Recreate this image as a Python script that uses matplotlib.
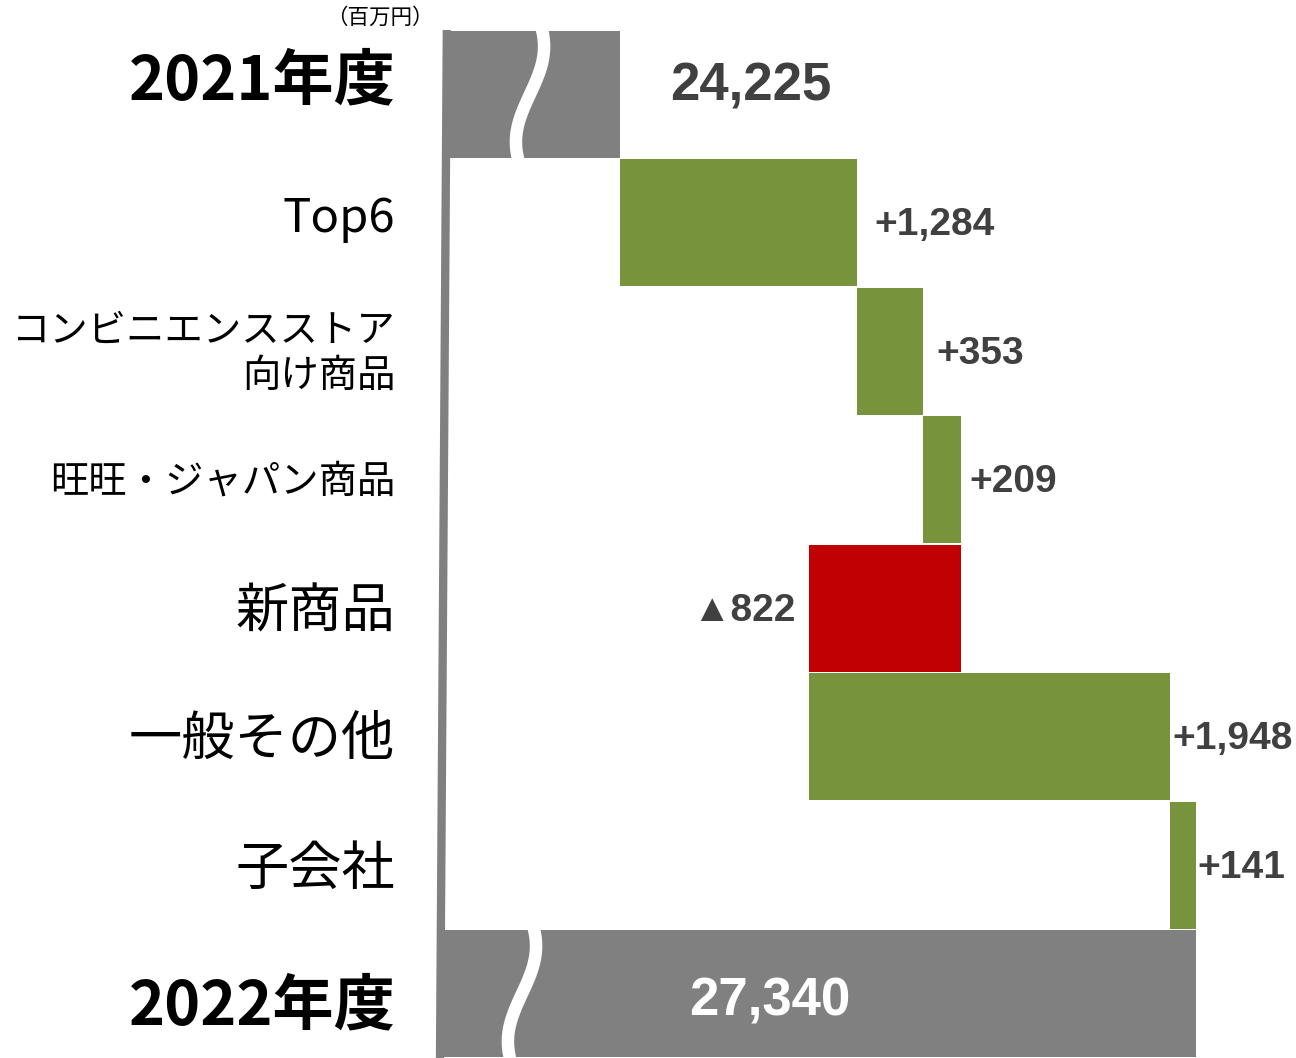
import numpy as np
import matplotlib
matplotlib.use('Agg')
import matplotlib.pyplot as plt
from matplotlib import transforms

plt.rcParams['font.family'] = ['Noto Sans CJK JP', 'DejaVu Sans']

# data (百万円)
start_label = '2021年度'
end_label = '2022年度'
start_value = 24225
end_value = 27340
categories = ['Top6', 'コンビニエンスストア\n向け商品', '旺旺・ジャパン商品',
              '新商品', '一般その他', '子会社']
deltas = [1284, 353, 209, -822, 1948, 141]

GRAY = '#808080'
GREEN = '#77933C'
RED = '#C00000'
TXT = '#404040'

W, H = 1296, 1058
fig = plt.figure(figsize=(W / 100, H / 100), dpi=100)
ax = fig.add_axes([443 / W, 0, (W - 443) / W, 1028 / H])

n = len(categories) + 2
ax.set_ylim(n - 0.5, -0.5)
ax.set_xlim(23268, 27881)
ax.axis('off')

bh = 0.99
# start / end totals
ax.barh(0, start_value, left=0, height=bh, color=GRAY)
ax.barh(n - 1, end_value, left=0, height=bh, color=GRAY)

# step bars
run = start_value
ends = []
for i, d in enumerate(deltas):
    left = run if d >= 0 else run + d
    ax.barh(i + 1, abs(d), left=left, height=bh,
            color=GREEN if d >= 0 else RED)
    run += d
    ends.append(run)

# wave breaks on the gray bars
blend = transforms.blended_transform_factory(ax.transAxes, ax.transData)
t = np.linspace(0, 1, 100)
for row, xmid in [(0, 0.102), (n - 1, 0.0926)]:
    xs = xmid - 0.0165 * np.sin(np.pi * (t - 0.5) * 1.4)
    ys = row - 0.52 + 1.04 * t
    ax.plot(xs, ys, color='white', lw=9, transform=blend,
            solid_capstyle='butt')

# slanted left axis line
ax.plot([0.0045, -0.0035], [-0.5, n - 0.5], color=GRAY, lw=6,
        transform=blend, clip_on=False, solid_capstyle='butt')

# category labels
labels = [start_label] + categories + [end_label]
for i, lab in enumerate(labels):
    if i in (0, n - 1):
        kw = dict(fontsize=44, fontweight='bold', color='black')
        dy = -0.1 if i == 0 else 0.1
    elif lab == 'Top6':
        kw = dict(fontsize=34, color='black')
        dy = -0.03
    elif len(lab) > 5:
        kw = dict(fontsize=27.6, color='black', linespacing=1.2)
        dy = 0.02
    else:
        kw = dict(fontsize=38.3, color='black')
        dy = 0.03
    ax.text(-0.056, i + dy, lab, transform=blend, ha='right', va='center',
            multialignment='right', **kw)

# value labels
num_font = ['Liberation Sans', 'DejaVu Sans']
ax.annotate(f'{start_value:,}', xy=(start_value, -0.06), xytext=(36, 0),
            textcoords='offset points', ha='left', va='center',
            fontsize=38, fontweight='bold', color=TXT, family=num_font)
ax.text(0.383, n - 1 + 0.06, f'{end_value:,}', transform=blend, ha='center',
        va='center', fontsize=38, fontweight='bold', color='white',
        family=num_font)

offsets = [12, 10, 6, 10, 2, 1]
for i, (d, b) in enumerate(zip(deltas, ends)):
    if d >= 0:
        txt = f'+{d:,}'
        ax.annotate(txt, xy=(b, i + 1 + 0.02), xytext=(offsets[i], 0),
                    textcoords='offset points', ha='left', va='center',
                    fontsize=28, fontweight='bold', color=TXT, family=num_font)
    else:
        txt = f'▲{abs(d):,}'
        ax.annotate(txt, xy=(b, i + 1 + 0.02), xytext=(-offsets[i], 0),
                    textcoords='offset points', ha='right', va='center',
                    fontsize=28, fontweight='bold', color=TXT, family=num_font)

fig.text(434 / W, 1 - 18 / H, '（百万円）', ha='right', va='center',
         fontsize=15.5, color='black')

fig.savefig('out.png', dpi=100)
